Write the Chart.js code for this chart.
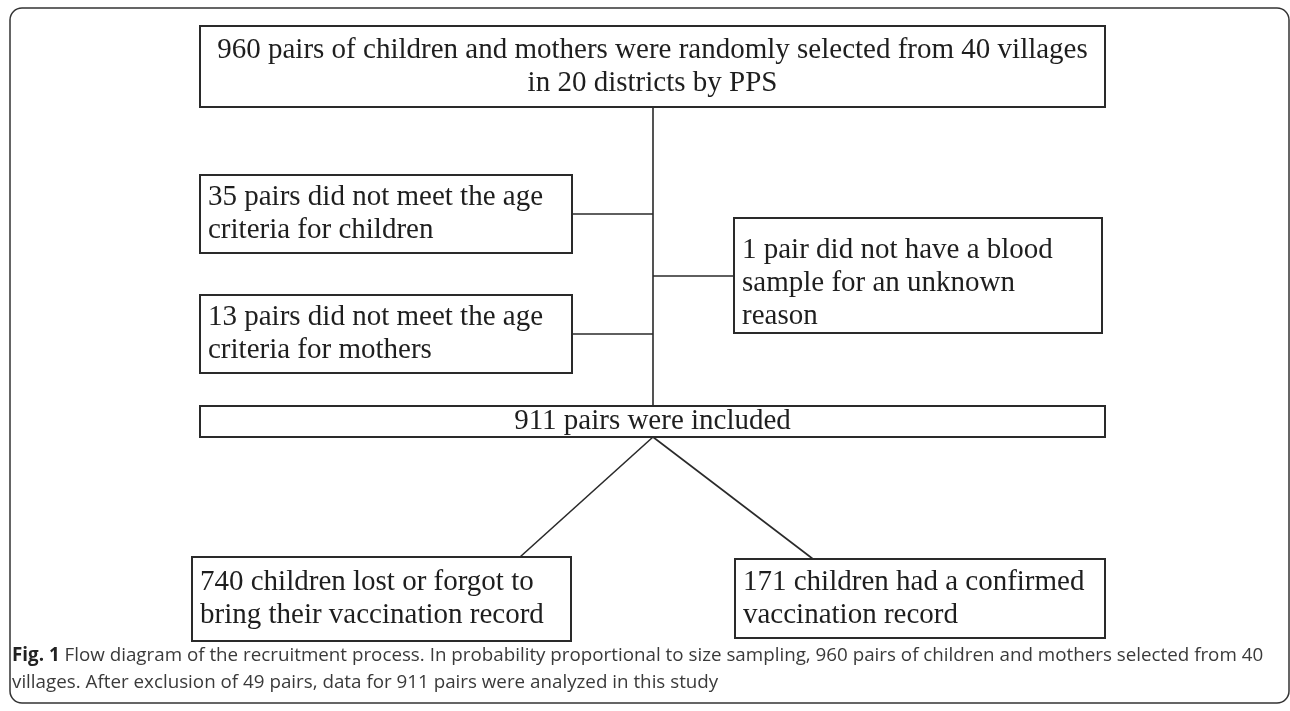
<!DOCTYPE html>
<html>
<head>
<meta charset="utf-8">
<script src="https://cdn.jsdelivr.net/npm/chart.js@4/dist/chart.umd.min.js"></script>
<style>
  html, body { margin: 0; padding: 0; background: #fff; }
  #wrap { width: 1290px; height: 711px; }
</style>
</head>
<body>
<div id="wrap"><canvas id="flowChart" width="1290" height="711"></canvas></div>
<script>
// --- Data ---
const stepNames = ['sampled', 'childAge', 'motherAge', 'noBlood', 'included', 'noRecord', 'confirmed'];
const pairCounts = [960, 35, 13, 1, 911, 740, 171];
const villageCount = 40;
const districtCount = 20;
const excludedTotal = pairCounts[1] + pairCounts[2] + pairCounts[3];

const boxLines = [
    [`${pairCounts[0]} pairs of children and mothers were randomly selected from ${villageCount} villages`, `in ${districtCount} districts by PPS`],
    [`${pairCounts[1]} pairs did not meet the age`, 'criteria for children'],
    [`${pairCounts[2]} pairs did not meet the age`, 'criteria for mothers'],
    [`${pairCounts[3]} pair did not have a blood`, 'sample for an unknown', 'reason'],
    [`${pairCounts[4]} pairs were included`],
    [`${pairCounts[5]} children lost or forgot to`, 'bring their vaccination record'],
    [`${pairCounts[6]} children had a confirmed`, 'vaccination record']
];
const boxAlign = ['center', 'left', 'left', 'left', 'center', 'left', 'left'];

const captionBold = 'Fig. 1';
const captionLines = [
    ' Flow diagram of the recruitment process. In probability proportional to size sampling, ' + pairCounts[0] + ' pairs of children and mothers selected from ' + villageCount,
    'villages. After exclusion of ' + excludedTotal + ' pairs, data for ' + pairCounts[4] + ' pairs were analyzed in this study'
];

// --- Layout (diagram units, x: 0..1290, y: 0..711 top-down) ---
const boxRects = [
    [200, 26, 1105, 107],
    [200, 175, 572, 253],
    [200, 295, 572, 373],
    [734, 218, 1102, 333],
    [200, 406, 1105, 437],
    [192, 557, 571, 641],
    [735, 559, 1105, 638]
];
const spineX = 653;
const connectors = [
    [[spineX, 107], [spineX, 406]],
    [[572, 214], [spineX, 214]],
    [[572, 334], [spineX, 334]],
    [[spineX, 276], [734, 276]],
    [[spineX, 437], [520, 557]],
    [[spineX, 437], [813, 559]]
];

const lineColor = '#2a2a2a';
const textColor = '#1e1e1e';
const serif = "'Liberation Serif', 'Times New Roman', serif";
const sans = "'Open Sans', 'Noto Sans', sans-serif";

const boxPlugin = {
    id: 'flowBoxes',
    afterDatasetsDraw(chart) {
        const ctx = chart.ctx;
        const xs = chart.scales.x, ys = chart.scales.y;
        const px = v => xs.getPixelForValue(v);
        const py = v => ys.getPixelForValue(v);
        ctx.save();

        // outer frame
        ctx.strokeStyle = '#333';
        ctx.lineWidth = 1.5;
        ctx.beginPath();
        ctx.roundRect(px(10), py(8), px(1289) - px(10), py(703) - py(8), 12);
        ctx.stroke();

        // boxes
        boxRects.forEach((r, i) => {
            const x0 = px(r[0]), y0 = py(r[1]), x1 = px(r[2]), y1 = py(r[3]);
            ctx.fillStyle = '#fff';
            ctx.fillRect(x0, y0, x1 - x0, y1 - y0);
            ctx.strokeStyle = lineColor;
            ctx.lineWidth = 2;
            ctx.strokeRect(x0, y0, x1 - x0, y1 - y0);

            ctx.fillStyle = textColor;
            ctx.font = '29px ' + serif;
            ctx.textBaseline = 'middle';
            const lh = 33;
            const lines = boxLines[i];
            const top = i === 3 ? y0 + 32 : (y0 + y1) / 2 - (lines.length - 1) * lh / 2;
            lines.forEach((t, k) => {
                if (boxAlign[i] === 'center') {
                    ctx.textAlign = 'center';
                    ctx.fillText(t, (x0 + x1) / 2, top + k * lh);
                } else {
                    ctx.textAlign = 'left';
                    ctx.fillText(t, x0 + 8, top + k * lh);
                }
            });
        });

        // caption
        ctx.textAlign = 'left';
        ctx.textBaseline = 'middle';
        ctx.font = 'bold 18.8px ' + sans;
        ctx.fillStyle = '#222';
        ctx.fillText(captionBold, px(12), py(656));
        const bw = ctx.measureText(captionBold).width;
        ctx.font = '18.8px ' + sans;
        ctx.fillStyle = '#3a3a3a';
        ctx.fillText(captionLines[0], px(12) + bw, py(656));
        ctx.fillText(captionLines[1], px(12), py(683));
        ctx.restore();
    }
};

new Chart(document.getElementById('flowChart'), {
    type: 'scatter',
    data: {
        datasets: connectors.map((seg, i) => ({
            label: 'link' + i,
            data: seg.map(p => ({ x: p[0], y: p[1] })),
            showLine: true,
            borderColor: lineColor,
            borderWidth: 1.6,
            pointRadius: 0,
            fill: false
        }))
    },
    options: {
        responsive: false,
        animation: false,
        layout: { padding: 0 },
        plugins: { legend: { display: false }, tooltip: { enabled: false } },
        scales: {
            x: { type: 'linear', min: 0, max: 1290, display: false },
            y: { type: 'linear', min: 0, max: 711, reverse: true, display: false }
        }
    },
    plugins: [boxPlugin]
});
</script>
</body>
</html>
